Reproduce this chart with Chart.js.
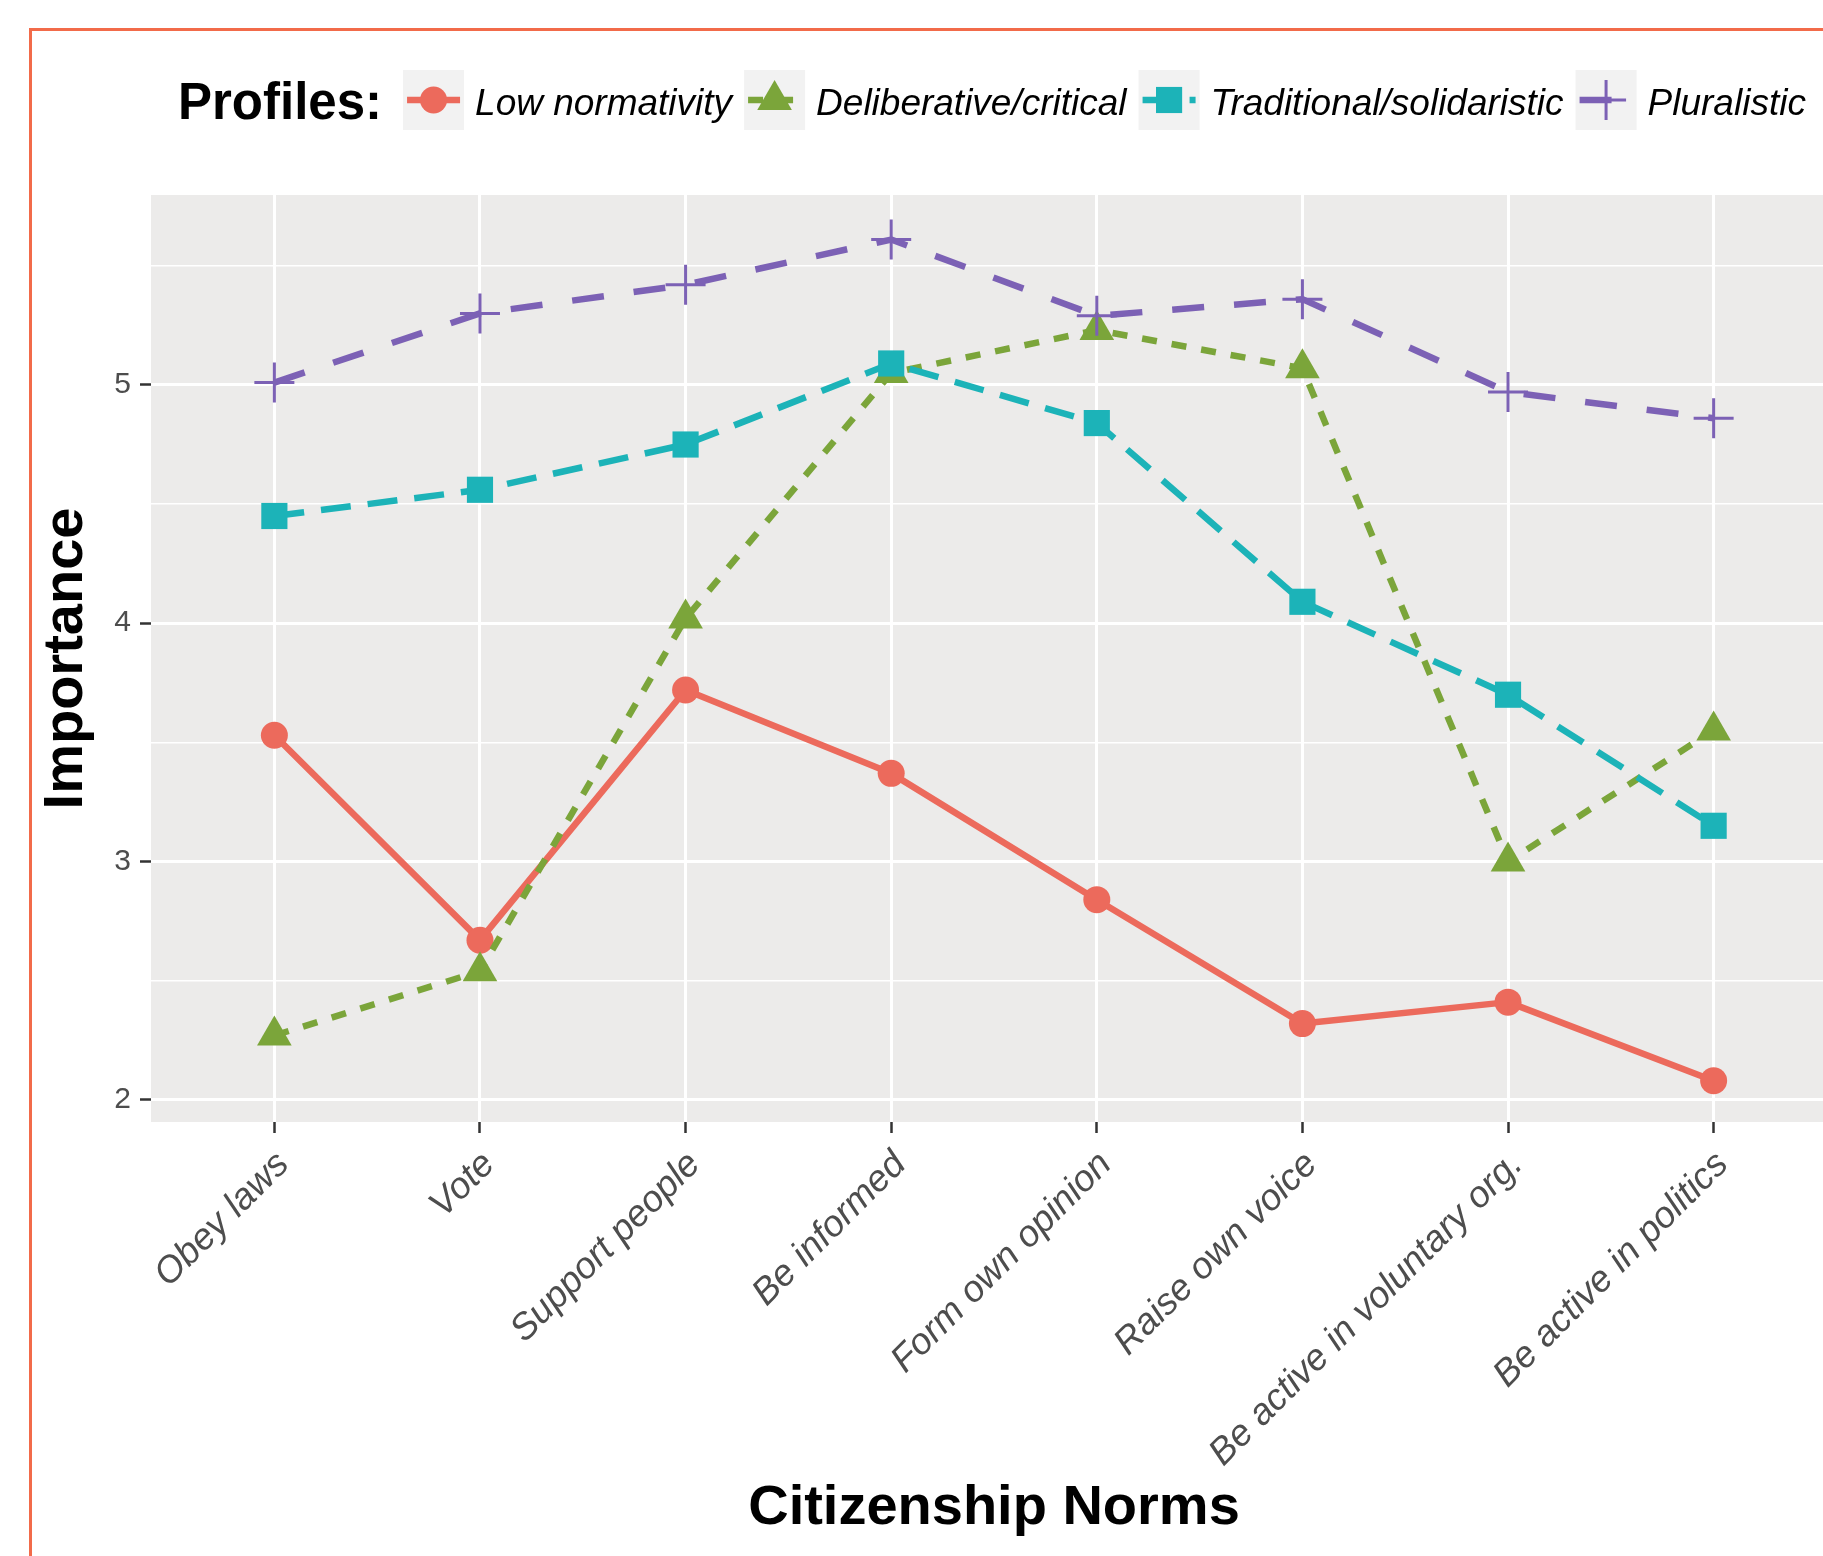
<!DOCTYPE html>
<html>
<head>
<meta charset="utf-8">
<script src="https://cdn.jsdelivr.net/npm/chart.js@4"></script>
<style>
html,body{margin:0;padding:0;background:#fff;overflow:hidden;width:1823px;height:1556px;}
#frame{position:absolute;left:29px;top:28px;width:1900px;height:1600px;border-left:3px solid #F26B4A;border-top:3px solid #F26B4A;}
#wrap{position:absolute;left:0;top:0;width:1860px;height:1556px;}
</style>
</head>
<body>
<div id="frame"></div>
<div id="wrap"><canvas id="c"></canvas></div>
<script>
// ---- data ----
const categories = ['Obey laws', 'Vote', 'Support people', 'Be informed', 'Form own opinion', 'Raise own voice', 'Be active in voluntary org.', 'Be active in politics'];
const seriesNames = ['Low normativity', 'Deliberative/critical', 'Traditional/solidaristic', 'Pluralistic'];
const lowNormativity = [3.53, 2.67, 3.72, 3.37, 2.84, 2.32, 2.41, 2.08];
const deliberativeCritical = [2.27, 2.54, 4.02, 5.05, 5.23, 5.07, 3.00, 3.55];
const traditionalSolidaristic = [4.45, 4.56, 4.75, 5.09, 4.84, 4.09, 3.70, 3.15];
const pluralistic = [5.01, 5.30, 5.42, 5.61, 5.29, 5.36, 4.97, 4.86];
const yMajorTicks = [2, 3, 4, 5];
const yMinorTicks = [2.5, 3.5, 4.5, 5.5];
const legendTitle = 'Profiles:';
const xTitle = 'Citizenship Norms';
const yTitle = 'Importance';

// ---- styles ----
const FONT = '"Liberation Sans", Arial, Helvetica, sans-serif';
const colors = ['#EC6A5C', '#7BA53A', '#1CB3B8', '#7C61B5'];
const dashes = [[], [15, 15], [30, 17], [32, 30]];
const pStyles = ['circle', 'triangle', 'rect', 'cross'];
const pRadius = [13.5, 20, 18.5, 20];
const pBorder = [0, 0, 0, 3];
const allSeries = [lowNormativity, deliberativeCritical, traditionalSolidaristic, pluralistic];

const datasets = allSeries.map((vals, k) => ({
  label: seriesNames[k],
  data: vals.map((v, i) => ({x: i, y: v})),
  borderColor: colors[k],
  backgroundColor: colors[k],
  borderWidth: 6.5,
  borderDash: dashes[k],
  borderCapStyle: 'butt',
  borderJoinStyle: 'round',
  pointStyle: pStyles[k],
  pointRadius: pRadius[k],
  pointHoverRadius: pRadius[k],
  pointBorderWidth: pBorder[k],
  pointBackgroundColor: colors[k],
  pointBorderColor: colors[k],
  tension: 0,
  order: 4 - k
}));

function drawMarker(ctx, style, x, y, r, color, bw) {
  ctx.save();
  ctx.fillStyle = color; ctx.strokeStyle = color; ctx.setLineDash([]);
  ctx.beginPath();
  if (style === 'circle') {
    ctx.arc(x, y, r, 0, Math.PI * 2); ctx.fill();
  } else if (style === 'triangle') {
    for (let j = 0; j < 3; j++) {
      const a = j * 2 * Math.PI / 3;
      const px = x + Math.sin(a) * r, py = y - Math.cos(a) * r;
      if (j === 0) ctx.moveTo(px, py); else ctx.lineTo(px, py);
    }
    ctx.closePath(); ctx.fill();
  } else if (style === 'rect') {
    const s = r * Math.SQRT1_2;
    ctx.rect(x - s, y - s, 2 * s, 2 * s); ctx.fill();
  } else if (style === 'cross') {
    ctx.lineWidth = bw;
    ctx.moveTo(x - r, y); ctx.lineTo(x + r, y);
    ctx.moveTo(x, y - r); ctx.lineTo(x, y + r);
    ctx.stroke();
  }
  ctx.restore();
}

const panelPlugin = {
  id: 'panelBg',
  beforeDraw(chart) {
    const {ctx, chartArea: a} = chart;
    ctx.save();
    ctx.fillStyle = '#ECEBEA';
    ctx.fillRect(a.left, a.top, a.right - a.left, a.bottom - a.top);
    ctx.restore();
  }
};

const legendPlugin = {
  id: 'profilesLegend',
  afterDraw(chart) {
    const ctx = chart.ctx;
    ctx.save();
    const cy = 100;
    ctx.textAlign = 'left';
    ctx.textBaseline = 'alphabetic';
    ctx.fillStyle = '#000';
    ctx.font = 'bold 51px ' + FONT;
    let x = 178;
    ctx.fillText(legendTitle, x, 119);
    x += ctx.measureText(legendTitle).width + 21;
    chart.data.datasets.forEach(ds => {
      ctx.fillStyle = '#F2F2F2';
      ctx.fillRect(x, cy - 30, 61, 60);
      ctx.strokeStyle = ds.borderColor;
      ctx.lineWidth = ds.borderWidth;
      ctx.lineCap = 'butt';
      ctx.setLineDash(ds.borderDash);
      ctx.beginPath(); ctx.moveTo(x + 4, cy); ctx.lineTo(x + 57, cy); ctx.stroke();
      ctx.setLineDash([]);
      drawMarker(ctx, ds.pointStyle, x + 30.5, cy, ds.pointRadius, ds.borderColor, ds.pointBorderWidth);
      ctx.font = 'italic 37px ' + FONT;
      ctx.fillStyle = '#000';
      ctx.fillText(ds.label, x + 72, 115);
      x += 72 + ctx.measureText(ds.label).width + 12;
    });
    ctx.restore();
  }
};

new Chart(document.getElementById('c'), {
  type: 'line',
  data: {datasets},
  plugins: [panelPlugin, legendPlugin],
  options: {
    responsive: true,
    maintainAspectRatio: false,
    animation: false,
    events: [],
    layout: {padding: {left: 0, top: 195, right: 14, bottom: 14}},
    plugins: {legend: {display: false}, tooltip: {enabled: false}},
    scales: {
      x: {
        type: 'linear',
        min: -0.6,
        max: categories.length - 1 + 0.6,
        afterBuildTicks: s => { s.ticks = categories.map((c, i) => ({value: i})); },
        afterFit: s => { s.height = 1542 - 1122; s.paddingLeft = 0; s.paddingRight = 0; },
        border: {display: false},
        grid: {color: '#FFFFFF', lineWidth: 3, tickColor: '#333333', tickLength: 11, tickWidth: 2.5, drawOnChartArea: true},
        ticks: {
          autoSkip: false,
          minRotation: 45, maxRotation: 45,
          padding: 10,
          labelOffset: 9,
          color: '#4D4D4D',
          font: {family: FONT, size: 37, style: 'italic'},
          callback: v => categories[v]
        },
        title: {display: true, text: xTitle, color: '#000', font: {family: FONT, size: 56, weight: 'bold'}, padding: {top: 0, bottom: 0}}
      },
      y: {
        type: 'linear',
        min: 1.907,
        max: 5.797,
        afterBuildTicks: s => { s.ticks = yMajorTicks.concat(yMinorTicks).sort((a, b) => a - b).map(v => ({value: v})); },
        afterFit: s => { s.width = 151; s.paddingTop = 0; s.paddingBottom = 0; },
        border: {display: false},
        grid: {
          color: '#FFFFFF',
          lineWidth: c => (yMajorTicks.includes(c.tick && c.tick.value) ? 3 : 1.5),
          tickColor: c => (yMajorTicks.includes(c.tick && c.tick.value) ? '#333333' : 'rgba(0,0,0,0)'),
          tickLength: 11,
          tickWidth: 2.5
        },
        ticks: {
          padding: 9,
          color: '#4D4D4D',
          font: {family: FONT, size: 30},
          callback: v => (yMajorTicks.includes(v) ? String(v) : '')
        },
        title: {display: true, text: yTitle, color: '#000', font: {family: FONT, size: 56, weight: 'bold'}, padding: {top: 33, bottom: 0}}
      }
    }
  }
});
</script>
</body>
</html>
